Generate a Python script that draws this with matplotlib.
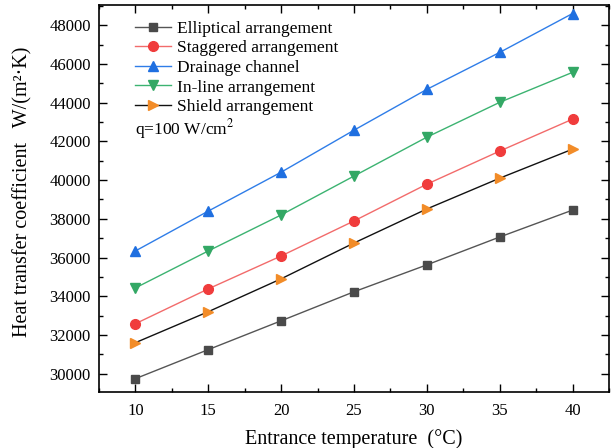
import matplotlib.pyplot as plt
from matplotlib.ticker import MultipleLocator

plt.rcParams['font.family'] = ['Liberation Serif', 'DejaVu Serif']
plt.rcParams['mathtext.fontset'] = 'stix'

temps = [10, 15, 20, 25, 30, 35, 40]
elliptical = [29740, 31240, 32730, 34230, 35620, 37060, 38450]
staggered = [32580, 34380, 36080, 37890, 39790, 41500, 43150]
drainage = [36340, 38400, 40410, 42580, 44690, 46600, 48610]
inline = [34430, 36340, 38200, 40210, 42220, 44020, 45570]
shield = [31600, 33200, 34900, 36750, 38510, 40100, 41600]

fig = plt.figure(figsize=(6.12, 4.48), dpi=100)
ax = fig.add_axes([0.1618, 0.125, 0.8332, 0.8638])

ax.plot(temps, elliptical, color='#555555', lw=1, marker='s', ms=6,
        mfc='#4a4a4a', mec='#4a4a4a', label='Elliptical arrangement')
ax.plot(temps, staggered, color='#f26b6b', lw=1, marker='o', ms=7,
        mfc='#f03c3c', mec='#f03c3c', label='Staggered arrangement')
ax.plot(temps, drainage, color='#2f7de8', lw=1, marker='^', ms=7.5,
        mfc='#1f6fe0', mec='#1f6fe0', label='Drainage channel')
ax.plot(temps, inline, color='#3cb371', lw=1, marker='v', ms=7.5,
        mfc='#33a865', mec='#33a865', label='In-line arrangement')
ax.plot(temps, shield, color='#111111', lw=1, marker='>', ms=7.5,
        mfc='#f28c28', mec='#f28c28', label='Shield arrangement')

ax.set_xlim(7.5, 42.5)
ax.set_ylim(29050, 49050)
ax.xaxis.set_major_locator(MultipleLocator(5))
ax.xaxis.set_minor_locator(MultipleLocator(2.5))
ax.yaxis.set_major_locator(MultipleLocator(2000))
ax.yaxis.set_minor_locator(MultipleLocator(1000))
ax.tick_params(which='both', direction='in', top=True, right=True, labelsize=12)
ax.tick_params(which='major', length=6, width=1)
ax.tick_params(which='minor', length=3, width=1)
ax.tick_params(axis='x', pad=8)
ax.tick_params(axis='y', pad=6)
for s in ax.spines.values():
    s.set_linewidth(1.2)

ax.set_xlabel('Entrance temperature  (\u00b0C)', fontsize=14.5, labelpad=7)
ax.set_ylabel('Heat transfer coefficient   W/(m\u00b2\u00b7K)', fontsize=14.5)
ax.yaxis.set_label_coords(-0.13, 0.517)

leg = ax.legend(loc='upper left', frameon=False, fontsize=12.5,
                bbox_to_anchor=(0.07, 0.960), handlelength=2.1,
                handletextpad=0.35, labelspacing=0.2,
                borderaxespad=0, borderpad=0)
ax.text(0.0706, 0.68, 'q=100 W/cm$^2$', transform=ax.transAxes,
        fontsize=12.5, va='center')

fig.savefig('out.png', dpi=100)
